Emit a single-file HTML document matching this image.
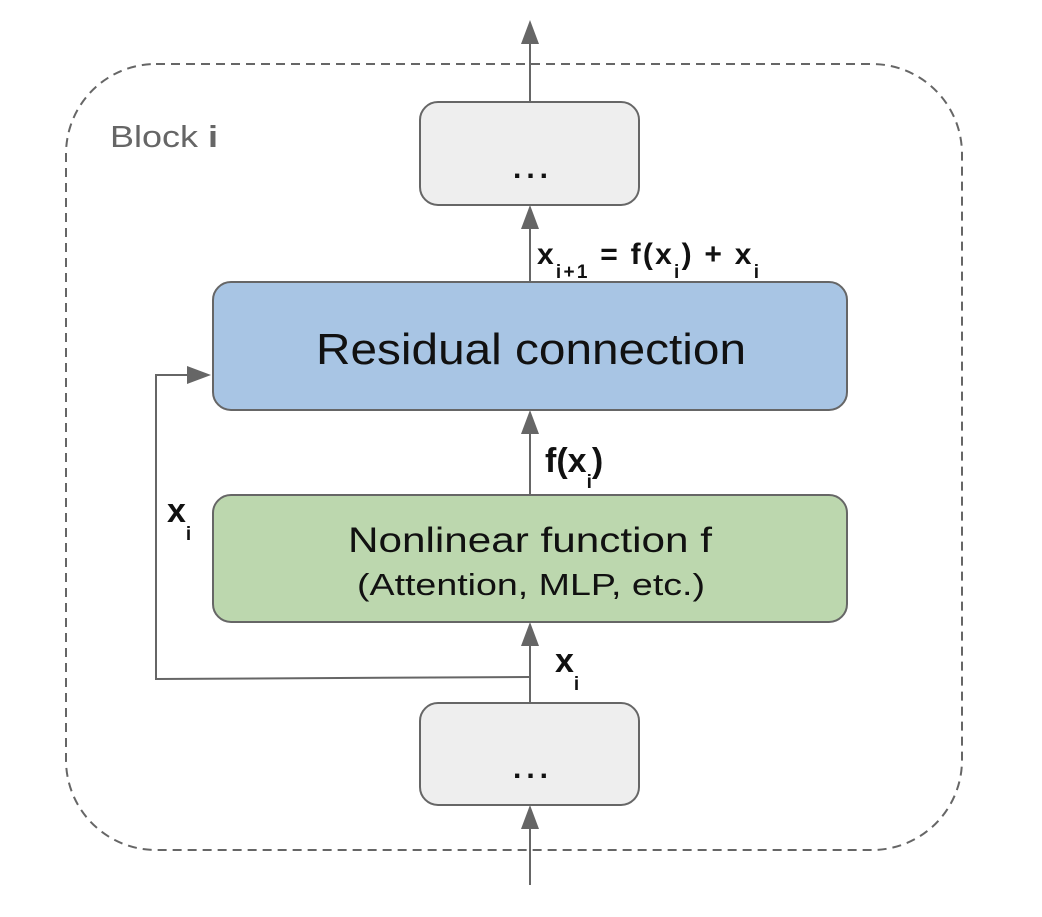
<!DOCTYPE html>
<html><head><style>html,body{margin:0;padding:0;background:#fff}</style></head>
<body>
<svg width="1042" height="912" viewBox="0 0 1042 912" xmlns="http://www.w3.org/2000/svg" font-family="Liberation Sans, sans-serif">
<rect x="66" y="64" width="896" height="786" rx="90" fill="none" stroke="#666" stroke-width="2" stroke-dasharray="9,6"/>
<text x="110" y="147" font-size="31" fill="#666" textLength="108" lengthAdjust="spacingAndGlyphs">Block <tspan font-weight="bold">i</tspan></text>
<rect x="420" y="102" width="219" height="103" rx="18" fill="#eeeeee" stroke="#666" stroke-width="2"/>
<text x="533" y="178" font-size="30" font-weight="bold" text-anchor="middle" fill="#111" letter-spacing="5">...</text>
<rect x="420" y="703" width="219" height="102" rx="18" fill="#eeeeee" stroke="#666" stroke-width="2"/>
<text x="533" y="778" font-size="30" font-weight="bold" text-anchor="middle" fill="#111" letter-spacing="5">...</text>
<rect x="213" y="282" width="634" height="128" rx="18" fill="#a8c5e4" stroke="#666" stroke-width="2"/>
<text x="316" y="364" font-size="44" fill="#111" textLength="430" lengthAdjust="spacingAndGlyphs">Residual connection</text>
<rect x="213" y="495" width="634" height="127" rx="18" fill="#bcd7ae" stroke="#666" stroke-width="2"/>
<text x="348" y="552" font-size="35" fill="#111" textLength="364" lengthAdjust="spacingAndGlyphs">Nonlinear function f</text>
<text x="357" y="595" font-size="31" fill="#111" textLength="348" lengthAdjust="spacingAndGlyphs">(Attention, MLP, etc.)</text>
<g stroke="#666" stroke-width="2" fill="none">
<line x1="530" y1="102" x2="530" y2="40"/>
<line x1="530" y1="282" x2="530" y2="225"/>
<line x1="530" y1="495" x2="530" y2="430"/>
<line x1="530" y1="703" x2="530" y2="642"/>
<line x1="530" y1="885" x2="530" y2="825"/>
<polyline points="530,677 156,679 156,375 190,375"/>
</g>
<g fill="#666">
<polygon points="530,20 521,44 539,44"/>
<polygon points="530,205 521,229 539,229"/>
<polygon points="530,410 521,434 539,434"/>
<polygon points="530,622 521,646 539,646"/>
<polygon points="530,805 521,829 539,829"/>
<polygon points="211,375 187,366 187,384"/>
</g>
<g font-weight="bold" fill="#111">
<text x="537" y="264" font-size="30" textLength="222" lengthAdjust="spacing">x<tspan font-size="19" dy="14">i+1</tspan><tspan dy="-14"> = f(x</tspan><tspan font-size="19" dy="14">i</tspan><tspan dy="-14">) + x</tspan><tspan font-size="19" dy="14">i</tspan></text>
<text x="545" y="472" font-size="34">f(x<tspan font-size="19" dy="16">i</tspan><tspan dy="-16">)</tspan></text>
<text x="167" y="522" font-size="34">x<tspan font-size="19" dy="18">i</tspan></text>
<text x="555" y="672" font-size="34">x<tspan font-size="19" dy="18">i</tspan></text>
</g>
</svg>
</body></html>
